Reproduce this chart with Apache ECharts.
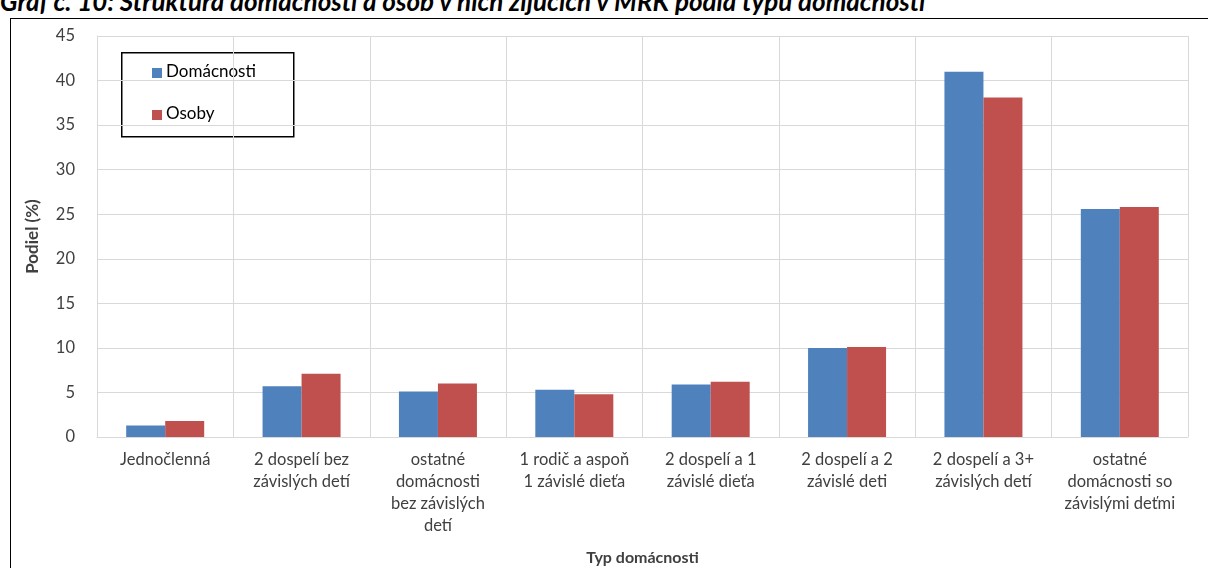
<!DOCTYPE html>
<html><head><meta charset="utf-8">
<script src="https://cdn.jsdelivr.net/npm/echarts@6/dist/echarts.min.js"></script>
<style>
body{margin:0;background:#fff;overflow:hidden}
#title{position:absolute;left:0;top:-15px;width:1208px;font:bold italic 26px Lato,sans-serif;white-space:nowrap;color:#000}
#box{position:absolute;left:10px;top:18px;width:1210px;height:560px;border:1px solid #000;box-sizing:border-box}
#chart{position:absolute;left:0;top:0;width:1208px;height:568px}
</style></head>
<body>
<div id="title">Graf č. 10: Štruktúra domácností a osôb v nich žijúcich v MRK podľa typu domácnosti</div>
<div id="box"></div>
<div id="chart"></div>
<script>
const categories = ["Jednočlenná", "2 dospelí bez\nzávislých detí", "ostatné\ndomácnosti\nbez závislých\ndetí",
  "1 rodič a aspoň\n1 závislé dieťa", "2 dospelí a 1\nzávislé dieťa", "2 dospelí a 2\nzávislé deti",
  "2 dospelí a 3+\nzávislých detí", "ostatné\ndomácnosti so\nzávislými deťmi"];
const domacnosti = [1.3, 5.7, 5.1, 5.3, 5.9, 10.0, 41.0, 25.6];
const osoby = [1.8, 7.1, 6.0, 4.8, 6.2, 10.1, 38.1, 25.8];

const font = "Lato, sans-serif";
const chart = echarts.init(document.getElementById("chart"));
chart.setOption({
  animation: false,
  textStyle: { fontFamily: font },
  grid: { left: 97, right: 20, top: 36, bottom: 131, outerBoundsMode: "none" },
  legend: { show: false },
  graphic: [
    { type: "rect", left: 121, top: 52, shape: { width: 172, height: 84 },
      style: { fill: "#fff", stroke: "#000", lineWidth: 1.5 } },
    { type: "rect", left: 152, top: 68, shape: { width: 10, height: 10 }, style: { fill: "#4f81bd" } },
    { type: "text", left: 166, top: 63, style: { text: "Domácnosti", font: "17px " + font, fill: "#000" } },
    { type: "rect", left: 152, top: 110, shape: { width: 10, height: 10 }, style: { fill: "#c0504d" } },
    { type: "text", left: 166, top: 105, style: { text: "Osoby", font: "17px " + font, fill: "#000" } }
  ],
  xAxis: {
    type: "category", data: categories,
    name: "Typ domácnosti", nameLocation: "middle", nameGap: 113,
    nameTextStyle: { fontWeight: "bold", fontSize: 16, color: "#404040" },
    axisTick: { show: false },
    axisLine: { lineStyle: { color: "#d9d9d9" } },
    splitLine: { show: true, lineStyle: { color: "#d9d9d9" } },
    axisLabel: { interval: 0, fontSize: 16.5, color: "#404040", lineHeight: 22, margin: 12 }
  },
  yAxis: {
    type: "value", min: 0, max: 45, interval: 5,
    name: "Podiel (%)", nameLocation: "middle", nameGap: 56, nameRotate: 90,
    nameTextStyle: { fontWeight: "bold", fontSize: 17, color: "#404040" },
    axisLine: { show: true, lineStyle: { color: "#d9d9d9" } },
    splitLine: { lineStyle: { color: "#d9d9d9" } },
    axisLabel: { fontSize: 16.5, color: "#404040", margin: 22 }
  },
  series: [
    { name: "Domácnosti", type: "bar", data: domacnosti, itemStyle: { color: "#4f81bd" },
      barWidth: 39, barGap: "0%" },
    { name: "Osoby", type: "bar", data: osoby, itemStyle: { color: "#c0504d" }, barWidth: 39 }
  ]
});
</script>
</body></html>
